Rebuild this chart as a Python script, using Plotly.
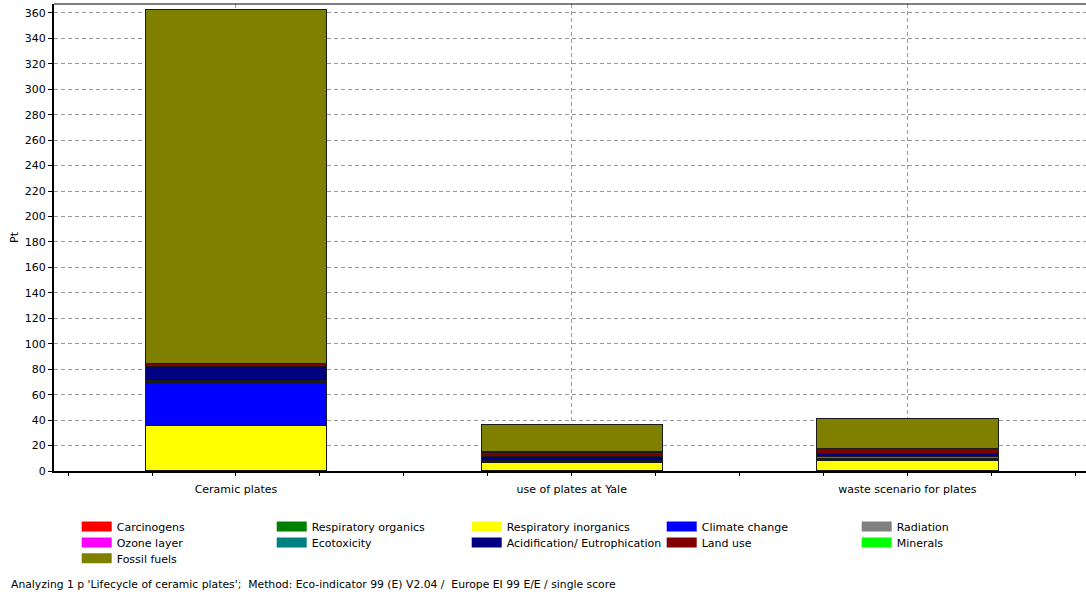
import plotly.graph_objects as go

categories = ["Ceramic plates", "use of plates at Yale", "waste scenario for plates"]

impact_names = ["Carcinogens", "Respiratory organics", "Respiratory inorganics", "Climate change",
                "Radiation", "Ozone layer", "Ecotoxicity", "Acidification/ Eutrophication",
                "Land use", "Minerals", "Fossil fuels"]
impact_colors = ["#FF0000", "#008000", "#FFFF00", "#0000FF", "#808080", "#FF00FF",
                 "#008080", "#000080", "#800000", "#00FF00", "#808000"]

carcinogens = [0.4, 0.3, 0.4]
respiratory_organics = [0.1, 0.05, 0.1]
respiratory_inorganics = [34.9, 6.2, 8.1]
climate_change = [34.1, 1.0, 1.0]
radiation = [0.1, 0.05, 0.05]
ozone_layer = [0.9, 0.7, 1.5]
ecotoxicity = [0.5, 0.3, 0.3]
acidification = [10.8, 3.0, 2.5]
land_use = [2.7, 3.0, 3.4]
minerals = [0.3, 0.5, 0.4]
fossil_fuels = [278.2, 21.1, 23.6]

series = [carcinogens, respiratory_organics, respiratory_inorganics, climate_change, radiation,
          ozone_layer, ecotoxicity, acidification, land_use, minerals, fossil_fuels]

y_ticks = list(range(0, 361, 20))

FONT = "DejaVu Sans"

fig = go.Figure()
for name, color, vals in zip(impact_names, impact_colors, series):
    fig.add_trace(go.Bar(x=categories, y=vals, name=name, marker_color=color,
                         marker_line_color="#1a1a1a", marker_line_width=1,
                         showlegend=False, width=0.54))
# legend entries (wide swatches), five per row
legend_ids = ["legend", "legend2", "legend3"]
for i, (name, color) in enumerate(zip(impact_names, impact_colors)):
    fig.add_trace(go.Scatter(x=[None], y=[None], mode="lines", name=name,
                             line=dict(color=color, width=11), showlegend=True,
                             legend=legend_ids[i // 5]))
# helper trace for minor tick axis
fig.add_trace(go.Scatter(x=[None], y=[None], xaxis="x2", showlegend=False, hoverinfo="skip"))

x_range = [-0.542, 2.532]

legend_common = dict(orientation="h", x=0.022, xanchor="left", yanchor="top",
                     traceorder="normal", entrywidth=150, entrywidthmode="pixels",
                     font=dict(family=FONT, size=11), tracegroupgap=0, itemwidth=30,
                     bgcolor="rgba(0,0,0,0)")

fig.update_layout(
    width=1086, height=596,
    margin=dict(l=54, r=0, t=4, b=125, autoexpand=False),
    paper_bgcolor="white", plot_bgcolor="white",
    barmode="stack",
    font=dict(family=FONT, size=11, color="#000000"),
    xaxis=dict(type="category", range=x_range, showgrid=True, gridcolor="#999999",
               griddash="4px,3px", gridwidth=1, showline=True, linecolor="#000000", linewidth=2,
               ticks="", ticklabelstandoff=7, tickfont=dict(family=FONT, size=11),
               zeroline=False, automargin=False),
    xaxis2=dict(overlaying="x", anchor="y", side="bottom", range=x_range, tick0=0, dtick=0.25,
                ticks="outside", ticklen=4, tickcolor="#000000", showticklabels=False,
                showgrid=False, showline=False, zeroline=False, automargin=False),
    yaxis=dict(range=[0, 367], tickvals=y_ticks, showgrid=True, gridcolor="#999999",
               griddash="4px,3px", gridwidth=1, showline=True, linecolor="#000000", linewidth=2,
               ticks="outside", ticklen=4, tickcolor="#000000", zeroline=False, automargin=False,
               title=dict(text="Pt", standoff=4, font=dict(family=FONT, size=11))),
    legend=dict(y=-0.0878, **legend_common),
    legend2=dict(y=-0.122, **legend_common),
    legend3=dict(y=-0.156, **legend_common),
    shapes=[dict(type="line", xref="paper", yref="paper", x0=0, x1=1, y0=1, y1=1,
                 line=dict(color="#000000", width=1))],
    annotations=[dict(text="Analyzing 1 p 'Lifecycle of ceramic plates';  Method: Eco-indicator 99 (E) V2.04 /  Europe EI 99 E/E / single score",
                      xref="paper", yref="paper", x=-0.0436, y=-0.244, xanchor="left",
                      yanchor="middle", showarrow=False, font=dict(family=FONT, size=10.8))],
)

fig.write_html("out.html", config={"displayModeBar": False},
               post_script="document.body.style.margin='0px';")
